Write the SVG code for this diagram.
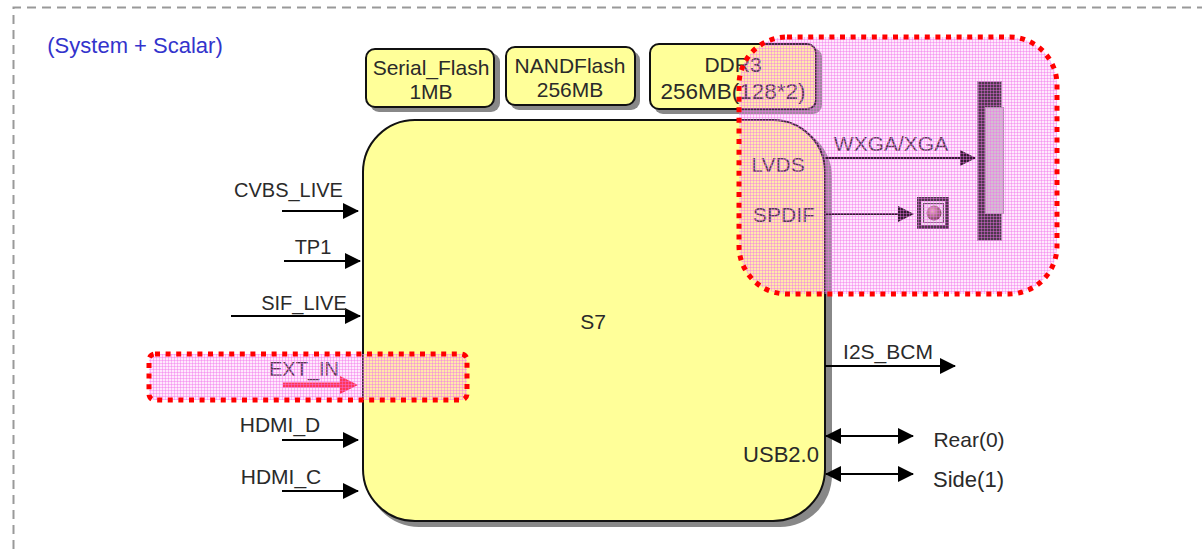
<svg xmlns="http://www.w3.org/2000/svg" width="1202" height="549" viewBox="0 0 1202 549">
<style>
text{font-family:"Liberation Sans",Arial,sans-serif;font-size:21px;fill:#2a2a2a;text-anchor:middle}
.s20{font-size:20px}
.box{fill:#ffff99;stroke:#111;stroke-width:2}
.sh{fill:#888}
.ln{stroke:#000;stroke-width:2;fill:none}
.ov{fill:url(#grid);stroke:#ff0000;stroke-width:5;stroke-dasharray:5 5.6}
</style>
<defs>
<pattern id="grid" width="3" height="3" patternUnits="userSpaceOnUse">
<rect width="3" height="3" fill="#ff90f4" fill-opacity=".2"/>
<path d="M0 .5H3M.5 0V3" stroke="#f070ec" stroke-width="1" stroke-opacity=".42"/>
</pattern>
<radialGradient id="ball" cx=".4" cy=".35" r=".7"><stop offset="0" stop-color="#e8b8b8"/><stop offset="1" stop-color="#4a2a2a"/></radialGradient>
<marker id="a" markerWidth="16" markerHeight="16" refX="15" refY="8" orient="auto-start-reverse" markerUnits="userSpaceOnUse"><path d="M0 0L16 8L0 16z" fill="#000"/></marker>
</defs>
<path d="M13.500 549V7.500H1202" fill="none" stroke="#999" stroke-width="2" stroke-dasharray="9 6"/>
<text x="135" y="53" style="fill:#3333cc;font-size:22px">(System + Scalar)</text>
<g id="serial-flash"><rect class="sh" x="370" y="53" width="130" height="59" rx="9"/><rect class="box" x="366" y="49" width="128" height="58" rx="9"/><text x="431" y="75">Serial_Flash</text><text x="431" y="99">1MB</text></g>
<g id="nand-flash"><rect class="sh" x="510" y="51" width="130" height="59" rx="9"/><rect class="box" x="506" y="47" width="129" height="58" rx="9"/><text x="570" y="73">NANDFlash</text><text x="570" y="97">256MB</text></g>
<g id="ddr3"><rect class="sh" x="654" y="48" width="168" height="66" rx="9"/><rect class="box" x="650" y="44" width="166" height="65" rx="9"/><text x="733" y="72">DDR3</text><text x="733" y="99" style="font-size:22.500px">256MB(128*2)</text></g>
<g id="s7"><rect class="sh" x="367" y="125" width="465" height="402" rx="52"/><rect class="box" x="363" y="120" width="462" height="401" rx="52"/><text x="593" y="329">S7</text><text x="778" y="172">LVDS</text><text x="784" y="222">SPDIF</text><text x="781" y="462" style="font-size:22px">USB2.0</text></g>
<g id="panel"><rect x="977.500" y="81.500" width="24" height="159" fill="#222" stroke="#999"/><rect x="985.500" y="107.500" width="18" height="106" fill="#c8c8c8" stroke="#999"/></g>
<g id="spdif-jack"><rect x="917" y="197" width="32" height="32" fill="#222"/><rect x="921" y="201" width="24" height="24" fill="#eee"/><rect x="923.500" y="203.500" width="20" height="19" fill="#eee" stroke="#444"/><circle cx="934" cy="213" r="7.500" fill="url(#ball)"/></g>
<g id="connectors">
<path class="ln" marker-end="url(#a)" d="M282 211H358"/>
<path class="ln" marker-end="url(#a)" d="M284 261H360"/>
<path class="ln" marker-end="url(#a)" d="M231 316H360"/>
<path d="M283 385H350" stroke="#ff2030" stroke-width="5" fill="none"/><path d="M340 376L358 385L340 394z" fill="#ff2030"/>
<path class="ln" marker-end="url(#a)" d="M282 440H358"/>
<path class="ln" marker-end="url(#a)" d="M282 491H358"/>
<path class="ln" marker-end="url(#a)" d="M825 158H975"/>
<path class="ln" marker-end="url(#a)" d="M825 214H913"/>
<path class="ln" marker-end="url(#a)" d="M825 366H955"/>
<path class="ln" marker-start="url(#a)" marker-end="url(#a)" d="M826 436H913"/>
<path class="ln" marker-start="url(#a)" marker-end="url(#a)" d="M826 474H913"/>
</g>
<text x="288.500" y="197" class="s20">CVBS_LIVE</text>
<text x="313" y="254" class="s20">TP1</text>
<text x="304" y="310" class="s20">SIF_LIVE</text>
<text x="304" y="376" class="s20">EXT_IN</text>
<text x="280" y="432">HDMI_D</text>
<text x="281" y="484">HDMI_C</text>
<text x="891" y="151">WXGA/XGA</text>
<text x="888" y="359">I2S_BCM</text>
<text x="969" y="447">Rear(0)</text>
<text x="968.500" y="487" style="font-size:22px">Side(1)</text>
<rect id="overlay-top" class="ov" x="739" y="37" width="318" height="257" rx="48"/>
<rect id="overlay-ext" class="ov" x="149" y="354" width="318" height="46" rx="6"/>
</svg>
